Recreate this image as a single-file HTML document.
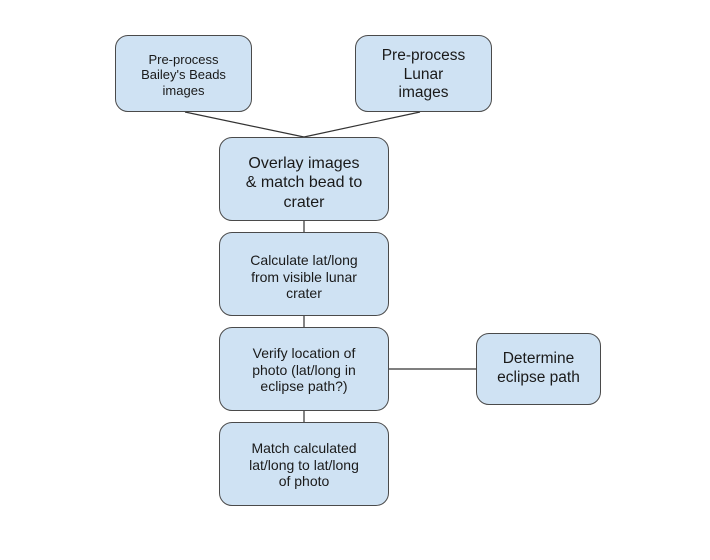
<!DOCTYPE html>
<html><head><style>
body{margin:0;width:710px;height:560px;background:#fff;overflow:hidden;position:relative;font-family:"Liberation Sans",Arial,sans-serif;}
.b{position:absolute;box-sizing:border-box;background:#cfe2f3;border:1.3px solid #4a4a4a;border-radius:13px;display:flex;align-items:center;justify-content:center;text-align:center;color:#1a1a1a;line-height:1.2;}
svg{position:absolute;left:0;top:0}
</style></head><body>
<svg width="710" height="560"><g stroke="#333" stroke-width="1.2">
<line x1="185" y1="112" x2="304" y2="137"/><line x1="420" y1="112" x2="304" y2="137"/>
<line x1="304" y1="221" x2="304" y2="232"/><line x1="304" y1="316" x2="304" y2="327"/>
<line x1="304" y1="411" x2="304" y2="422"/><line x1="389" y1="369" x2="476" y2="369"/>
</g></svg>
<div class="b" style="left:115px;top:35px;width:137px;height:77px;font-size:13px;padding-top:3px">Pre-process<br>Bailey's Beads<br>images</div>
<div class="b" style="left:355px;top:35px;width:137px;height:77px;font-size:15.5px;padding-top:3px">Pre-process<br>Lunar<br>images</div>
<div class="b" style="left:219px;top:137px;width:170px;height:84px;font-size:16px;padding-top:8px">Overlay images<br>&amp; match bead to<br>crater</div>
<div class="b" style="left:219px;top:232px;width:170px;height:84px;font-size:14px;padding-top:6px">Calculate lat/long<br>from visible lunar<br>crater</div>
<div class="b" style="left:219px;top:327px;width:170px;height:84px;font-size:14px;padding-top:2px">Verify location of<br>photo (lat/long in<br>eclipse path?)</div>
<div class="b" style="left:219px;top:422px;width:170px;height:84px;font-size:14px;padding-top:2px">Match calculated<br>lat/long to lat/long<br>of photo</div>
<div class="b" style="left:476px;top:333px;width:125px;height:72px;font-size:15.5px">Determine<br>eclipse path</div>
</body></html>
